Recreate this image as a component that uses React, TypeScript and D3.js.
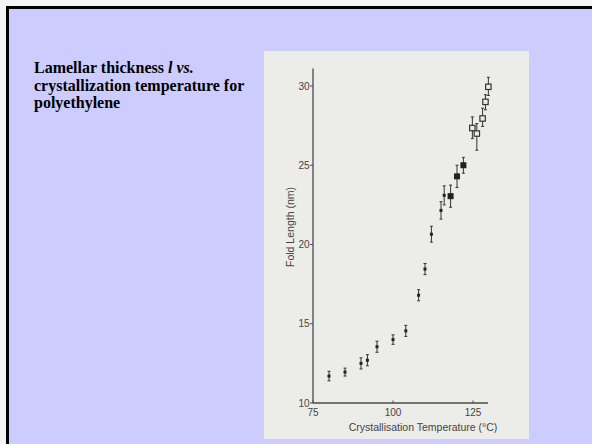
import React from "react";
import * as d3 from "d3";

const temps = [80, 85, 90, 92, 95, 100, 104, 108, 110, 112, 115, 116, 118, 120, 122, 124.8, 126.2, 128, 128.9, 129.8];
const lengths = [11.7, 11.95, 12.5, 12.7, 13.55, 14.0, 14.55, 16.8, 18.45, 20.65, 22.15, 23.1, 23.05, 24.3, 25.0, 27.35, 27.0, 27.95, 29.0, 29.95];
const errUp = [0.3, 0.25, 0.35, 0.35, 0.35, 0.3, 0.35, 0.35, 0.35, 0.5, 0.55, 0.6, 0.7, 0.7, 0.5, 0.7, 0.63, 0.65, 0.45, 0.6];
const errDown = [0.3, 0.25, 0.35, 0.35, 0.35, 0.3, 0.35, 0.35, 0.35, 0.5, 0.55, 0.6, 0.7, 0.7, 0.5, 0.67, 1.05, 0.5, 0.5, 0.55];
const markers = ["dot", "dot", "dot", "dot", "dot", "dot", "dot", "dot", "dot", "dot", "dot", "dot", "filled", "filled", "filled", "open", "open", "open", "open", "open"];
const xTicks = [75, 100, 125];
const yTicks = [10, 15, 20, 25, 30];
const titleLines = ["Lamellar thickness ", "crystallization temperature for", "polyethylene"];

const PANEL = "#ececE8";

export default function App() {
  const x = d3.scaleLinear().domain([75, 125]).range([313, 473]);
  const y = d3.scaleLinear().domain([10, 30]).range([403, 86]);
  const axisColor = "#4a4a4a";
  const font = "'Liberation Sans Narrow', 'Liberation Sans', Arial, sans-serif";
  return (
    <svg width={592} height={444} style={{ position: "absolute", left: 0, top: 0 }}>
      <rect x={0} y={0} width={592} height={444} fill="#f4f4f4" />
      <rect x={7.5} y={7.5} width={600} height={450} fill="#ccccff" stroke="#000" strokeWidth={3} />
      <text x={34} y={73} fontFamily="'Liberation Serif', 'Times New Roman', serif" fontWeight="bold" fontSize={16} fill="#000">
        <tspan>{titleLines[0]}</tspan>
        <tspan fontStyle="italic">l vs.</tspan>
        <tspan x={34} dy={17.6}>{titleLines[1]}</tspan>
        <tspan x={34} dy={17.6}>{titleLines[2]}</tspan>
      </text>
      <rect x={264} y={51} width={265} height={388} fill={PANEL} />
      <line x1={x(75)} x2={x(129.7)} y1={y(10)} y2={y(10)} stroke={axisColor} strokeWidth={1.3} />
      <line x1={x(75)} x2={x(75)} y1={y(10)} y2={y(31.1)} stroke={axisColor} strokeWidth={1.3} />
      {yTicks.map((t) => (
        <g key={"y" + t}>
          <line x1={x(75) - 3} x2={x(75)} y1={y(t)} y2={y(t)} stroke={axisColor} strokeWidth={1} />
          <text x={x(75) - 3.5} y={y(t)} dy="0.35em" textAnchor="end" fontFamily={font} fontSize={10} fill="#444">{t}</text>
        </g>
      ))}
      {xTicks.map((t) => (
        <g key={"x" + t}>
          <line x1={x(t)} x2={x(t)} y1={y(10)} y2={y(10) - 2.5} stroke={axisColor} strokeWidth={1} />
          <text x={x(t)} y={y(10) + 13} textAnchor="middle" fontFamily={font} fontSize={10} fill="#444">{t}</text>
        </g>
      ))}
      <text x={423} y={431} textAnchor="middle" fontFamily={font} fontSize={10.5} fill="#444">Crystallisation Temperature (°C)</text>
      <text transform={`translate(294,227) rotate(-90)`} textAnchor="middle" fontFamily={font} fontSize={10.5} fill="#444">Fold Length (nm)</text>
      {temps.map((t, i) => {
        const cx = x(t);
        const cy = y(lengths[i]);
        const top = y(lengths[i] + errUp[i]);
        const bot = y(lengths[i] - errDown[i]);
        const m = markers[i];
        return (
          <g key={"p" + i}>
            <line x1={cx} x2={cx} y1={top} y2={bot} stroke="#333" strokeWidth={1} />
            <line x1={cx - 1.5} x2={cx + 1.5} y1={top} y2={top} stroke="#333" strokeWidth={1} />
            <line x1={cx - 1.5} x2={cx + 1.5} y1={bot} y2={bot} stroke="#333" strokeWidth={1} />
            {m === "dot" && <rect x={cx - 1.5} y={cy - 1.5} width={3} height={3} fill="#222" />}
            {m === "filled" && <rect x={cx - 3} y={cy - 3} width={6} height={6} fill="#222" />}
            {m === "open" && <rect x={cx - 2.7} y={cy - 2.7} width={5.4} height={5.4} fill={PANEL} stroke="#333" strokeWidth={1.2} />}
          </g>
        );
      })}
    </svg>
  );
}
